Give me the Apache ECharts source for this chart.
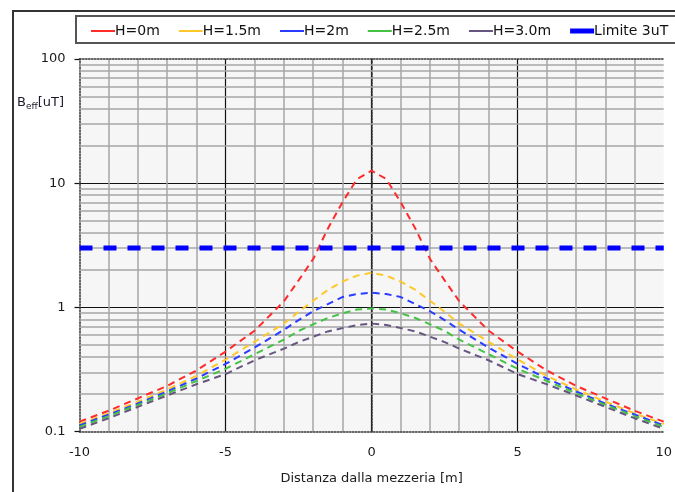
<!DOCTYPE html>
<html>
<head>
<meta charset="utf-8">
<script src="https://cdn.jsdelivr.net/npm/echarts@6/dist/echarts.min.js"></script>
<style>
html,body{margin:0;padding:0;background:#fff;}
#chart{width:675px;height:492px;}
</style>
</head>
<body>
<div id="chart"></div>
<script>
// ---- data ----
const xs    = [-10,-9,-8,-7,-6,-5,-4,-3,-2.5,-2,-1.5,-1,-0.5,0,0.5,1,1.5,2,2.5,3,4,5,6,7,8,9,10];
const bH0   = [0.12,0.147,0.185,0.233,0.31,0.44,0.65,1.12,1.65,2.45,4.3,7.0,10.8,12.6,10.8,7.0,4.3,2.45,1.65,1.12,0.65,0.44,0.31,0.233,0.185,0.147,0.12];
const bH15  = [0.115,0.14,0.174,0.218,0.28,0.38,0.53,0.74,0.92,1.13,1.38,1.61,1.8,1.9,1.8,1.61,1.38,1.13,0.92,0.74,0.53,0.38,0.28,0.218,0.174,0.14,0.115];
const bH2   = [0.112,0.137,0.168,0.21,0.267,0.35,0.475,0.66,0.79,0.93,1.06,1.21,1.28,1.31,1.28,1.21,1.06,0.93,0.79,0.66,0.475,0.35,0.267,0.21,0.168,0.137,0.112];
const bH25  = [0.109,0.133,0.164,0.203,0.255,0.32,0.42,0.55,0.645,0.73,0.82,0.895,0.96,0.98,0.96,0.895,0.82,0.73,0.645,0.55,0.42,0.32,0.255,0.203,0.164,0.133,0.109];
const bH3   = [0.105,0.128,0.158,0.195,0.24,0.29,0.375,0.465,0.525,0.58,0.64,0.68,0.72,0.74,0.72,0.68,0.64,0.58,0.525,0.465,0.375,0.29,0.24,0.195,0.158,0.128,0.105];
const limitX = [-10,10];
const limitY = [3,3];
const seriesNames = ['H=0m','H=1.5m','H=2m','H=2.5m','H=3.0m','Limite 3uT'];
const minorYLines = [0.2,0.3,0.4,0.5,0.6,0.7,0.8,0.9,2,3,4,5,6,7,8,9,20,30,40,50,60,70,80,90];
const xTitle = 'Distanza dalla mezzeria [m]';

const colors = ['#ff2a2a','#ffc82a','#2a3cff','#44c244','#66557f','#0000ff'];
const FONT = 'DejaVu Sans';

function pairs(x, y){ return x.map((v,i)=>[v, y[i]]); }

function curve(name, ys, color){
  return {
    name, type:'line', data:pairs(xs,ys), showSymbol:false, smooth:false, z:10,
    silent:true, emphasis:{disabled:true}, legendHoverLink:false,
    color: color,
    lineStyle:{width:2, type:[7,5]}
  };
}

const chart = echarts.init(document.getElementById('chart'));
const lineIcon = 'path://M0,0H24V2H0Z';

const option = {
  backgroundColor:'#ffffff',
  animation:false,
  tooltip:{show:false},
  graphic:[
    {type:'rect', silent:true, shape:{x:13,y:11,width:700,height:500}, style:{fill:'none',stroke:'#333',lineWidth:2}, z:-10},
    {type:'rect', silent:true, shape:{x:76,y:16,width:640,height:27}, style:{fill:'#fff',stroke:'#555',lineWidth:2}, z:-5},
    {type:'text', silent:true, left:17, top:96, z:10,
      style:{
        text:'{b|B}{s|eff}{b|[uT]}',
        rich:{
          b:{fontSize:13, fontFamily:FONT, fill:'#1a1a2a', lineHeight:16, verticalAlign:'bottom'},
          s:{fontSize:9, fontFamily:FONT, fill:'#1a1a2a', lineHeight:10, verticalAlign:'bottom', padding:[0,0,-2,0]}
        }
      }}
  ],
  legend:{
    left:91, top:24, padding:0, itemWidth:24, itemHeight:5, itemGap:19,
    selectedMode:false,
    textStyle:{fontSize:14, fontFamily:FONT, color:'#111', padding:[0,0,0,-5]},
    data:seriesNames.map((n,i)=>({name:n, icon: i===5 ? 'rect' : lineIcon}))
  },
  grid:{left:79.5, right:6.5, top:59, bottom:60.5, show:true, backgroundColor:'#f6f6f6', borderWidth:0},
  xAxis:[{
    type:'value', min:-10, max:10, interval:5, silent:true,
    name:xTitle, nameLocation:'middle', nameGap:41,
    nameTextStyle:{fontSize:13, fontFamily:FONT, color:'#1a1a1a'},
    axisLine:{show:true, onZero:false, lineStyle:{color:'#333', width:1.5, type:'dotted'}},
    axisTick:{show:false},
    axisLabel:{fontSize:13, fontFamily:FONT, color:'#1a1a1a', margin:15},
    splitLine:{show:true, showMinLine:false, showMaxLine:false, lineStyle:{color:'#111', width:1.2}},
    minorTick:{show:false, splitNumber:5},
    minorSplitLine:{show:true, lineStyle:{color:'#a6a6a6', width:1.5}}
  },{
    type:'value', position:'top', min:-10, max:10, silent:true,
    axisLine:{show:true, lineStyle:{color:'#333', width:1.5, type:'dotted'}},
    axisTick:{show:false}, axisLabel:{show:false}, splitLine:{show:false}
  }],
  yAxis:[{
    type:'log', logBase:10, min:0.1, max:100, silent:true,
    axisLine:{show:true, onZero:false, lineStyle:{color:'#333', width:1.5, type:'dotted'}},
    axisTick:{show:true, length:5, lineStyle:{color:'#111', width:1.2}},
    axisLabel:{fontSize:13, fontFamily:FONT, color:'#1a1a1a', margin:14},
    splitLine:{show:true, showMinLine:false, showMaxLine:false, lineStyle:{color:'#111', width:1.2}},
    minorSplitLine:{show:false}
  },{
    type:'log', logBase:10, min:0.1, max:100, position:'right', silent:true,
    axisLine:{show:true, lineStyle:{color:'#333', width:1.5, type:'dotted'}},
    axisTick:{show:false}, axisLabel:{show:false}, splitLine:{show:false}
  }],
  series:[
    {
      name:'grid-minor', type:'line', data:[], silent:true, z:1,
      markLine:{
        z:1, silent:true, symbol:'none', label:{show:false}, animation:false, emphasis:{disabled:true},
        lineStyle:{color:'#a6a6a6', width:1.5, type:'solid'},
        data:minorYLines.map(v=>({yAxis:v}))
      }
    },
    curve(seriesNames[0], bH0, colors[0]),
    curve(seriesNames[1], bH15, colors[1]),
    curve(seriesNames[2], bH2, colors[2]),
    curve(seriesNames[3], bH25, colors[3]),
    curve(seriesNames[4], bH3, colors[4]),
    {
      name:seriesNames[5], type:'line', data:pairs(limitX, limitY), showSymbol:false, z:11,
      silent:true, emphasis:{disabled:true}, legendHoverLink:false,
      color:colors[5],
      lineStyle:{width:5, type:[13,11]}
    }
  ]
};
chart.setOption(option);
</script>
</body>
</html>
